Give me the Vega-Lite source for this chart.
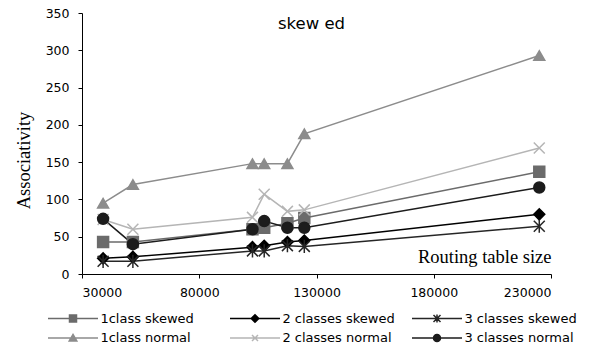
{
  "$schema": "https://vega.github.io/schema/vega-lite/v6.json",
  "width": 469,
  "height": 261,
  "autosize": {"type": "none"},
  "padding": {"left": 82, "top": 13, "right": 38, "bottom": 77},
  "background": "white",
  "title": {"text": "skew ed", "font": "DejaVu Sans", "fontSize": 16.5, "fontWeight": "normal", "color": "#000000", "anchor": "middle", "frame": "group", "orient": "top", "offset": 0, "baseline": "alphabetic", "dx": -5, "dy": 38},
  "config": {
    "view": {"stroke": null},
    "axis": {"grid": false, "domainColor": "#000000", "tickColor": "#000000", "tickSize": 4, "labelColor": "#000000", "labelFont": "DejaVu Sans", "labelFontSize": 12.5, "titleColor": "#000000", "titleFont": "Liberation Serif", "titleFontSize": 18.5, "titleFontWeight": "normal", "domainWidth": 1, "tickWidth": 1}
  },
  "data": {"values": [
    {"series": "1class skewed", "size": 39000, "assoc": 43},
    {"series": "1class skewed", "size": 51700, "assoc": 43},
    {"series": "1class skewed", "size": 102700, "assoc": 60},
    {"series": "1class skewed", "size": 107700, "assoc": 62},
    {"series": "1class skewed", "size": 117600, "assoc": 68},
    {"series": "1class skewed", "size": 124800, "assoc": 75},
    {"series": "1class skewed", "size": 225000, "assoc": 137},
    {"series": "2 classes skewed", "size": 39000, "assoc": 21},
    {"series": "2 classes skewed", "size": 51700, "assoc": 23},
    {"series": "2 classes skewed", "size": 102700, "assoc": 36},
    {"series": "2 classes skewed", "size": 107700, "assoc": 38},
    {"series": "2 classes skewed", "size": 117600, "assoc": 43},
    {"series": "2 classes skewed", "size": 124800, "assoc": 45},
    {"series": "2 classes skewed", "size": 225000, "assoc": 80},
    {"series": "3 classes skewed", "size": 39000, "assoc": 17},
    {"series": "3 classes skewed", "size": 51700, "assoc": 17},
    {"series": "3 classes skewed", "size": 102700, "assoc": 31},
    {"series": "3 classes skewed", "size": 107700, "assoc": 31},
    {"series": "3 classes skewed", "size": 117600, "assoc": 38},
    {"series": "3 classes skewed", "size": 124800, "assoc": 37},
    {"series": "3 classes skewed", "size": 225000, "assoc": 64},
    {"series": "1class normal", "size": 39000, "assoc": 95},
    {"series": "1class normal", "size": 51700, "assoc": 120},
    {"series": "1class normal", "size": 102700, "assoc": 148},
    {"series": "1class normal", "size": 107700, "assoc": 148},
    {"series": "1class normal", "size": 117600, "assoc": 148},
    {"series": "1class normal", "size": 124800, "assoc": 188},
    {"series": "1class normal", "size": 225000, "assoc": 293},
    {"series": "2 classes normal", "size": 39000, "assoc": 73},
    {"series": "2 classes normal", "size": 51700, "assoc": 60},
    {"series": "2 classes normal", "size": 102700, "assoc": 76},
    {"series": "2 classes normal", "size": 107700, "assoc": 107},
    {"series": "2 classes normal", "size": 117600, "assoc": 84},
    {"series": "2 classes normal", "size": 124800, "assoc": 86},
    {"series": "2 classes normal", "size": 225000, "assoc": 169},
    {"series": "3 classes normal", "size": 39000, "assoc": 74},
    {"series": "3 classes normal", "size": 51700, "assoc": 40},
    {"series": "3 classes normal", "size": 102700, "assoc": 60},
    {"series": "3 classes normal", "size": 107700, "assoc": 71},
    {"series": "3 classes normal", "size": 117600, "assoc": 62},
    {"series": "3 classes normal", "size": 124800, "assoc": 62},
    {"series": "3 classes normal", "size": 225000, "assoc": 116}
  ]},
  "encoding": {
    "x": {"field": "size", "type": "quantitative", "scale": {"domain": [30000, 230000], "nice": false, "zero": false},
      "axis": {"values": [30000, 80000, 130000, 180000, 230000], "format": "d", "labelPadding": 8, "title": "Routing table size", "titleAnchor": null, "titleAlign": "right", "titleBaseline": "alphabetic", "titleX": 469, "titleY": -12}},
    "y": {"field": "assoc", "type": "quantitative", "scale": {"domain": [0, 350], "nice": false},
      "axis": {"values": [0, 50, 100, 150, 200, 250, 300, 350], "labelPadding": 9, "title": "Associativity", "titleAngle": -90, "titleAlign": "center", "titleBaseline": "middle", "titleX": -58.5, "titleY": 147}}
  },
  "layer": [
    {"mark": {"type": "line", "strokeWidth": 1.5},
      "encoding": {
        "color": {"field": "series", "type": "nominal",
          "scale": {"domain": ["1class skewed", "2 classes skewed", "3 classes skewed", "1class normal", "2 classes normal", "3 classes normal"],
            "range": ["#6b6b6b", "#000000", "#262626", "#8c8c8c", "#b5b5b5", "#1c1c1c"]},
          "legend": {"title": null, "orient": "none", "direction": "horizontal", "legendX": -34, "legendY": 294.5, "columns": 3, "gridAlign": "all", "columnPadding": 14, "rowPadding": 1.5, "padding": 0,
            "symbolSize": 400, "symbolStrokeWidth": 1.5, "symbolOpacity": 1, "labelOffset": 30.4, "labelFont": "DejaVu Sans", "labelFontSize": 13, "labelColor": "#000000", "labelLimit": 300,
            "symbolFillColor": {"expr": "scale('color', datum.value)"},
            "symbolType": {"expr": "datum.value == '1class skewed' ? 'M-1.1,0L3.9,0M1.05,-0.35L1.75,-0.35L1.75,0.35L1.05,0.35Z' : datum.value == '2 classes skewed' ? 'M-1.1,0L3.9,0M1.4,-0.38L1.78,0L1.4,0.38L1.02,0Z' : datum.value == '3 classes skewed' ? 'M-1.1,0L3.9,0M1.05,-0.35L1.75,0.35M1.05,0.35L1.75,-0.35M1.4,-0.4L1.4,0.4' : datum.value == '1class normal' ? 'M-1.1,0L3.9,0M1.4,-0.35L1.78,0.3L1.02,0.3Z' : datum.value == '2 classes normal' ? 'M-1.1,0L3.9,0M1.1,-0.3L1.7,0.3M1.1,0.3L1.7,-0.3' : 'M-1.1,0L3.9,0M1.75,0A0.35,0.35,0,1,1,1.05,0A0.35,0.35,0,1,1,1.75,0Z'"}
          }
        }
      }},
    {"mark": {"type": "point", "filled": true, "size": 120, "strokeWidth": 1.5, "opacity": 1},
      "encoding": {
        "shape": {"field": "series", "type": "nominal", "legend": null,
          "scale": {"domain": ["1class normal", "1class skewed", "2 classes normal", "2 classes skewed", "3 classes normal", "3 classes skewed"],
            "range": ["triangle-up", "square", "M-1,-1L1,1M-1,1L1,-1", "diamond", "circle", "M-1,-1L1,1M-1,1L1,-1M0,-1.2L0,1.2"]}},
        "fill": {"field": "series", "type": "nominal", "legend": null,
          "scale": {"domain": ["1class normal", "1class skewed", "2 classes normal", "2 classes skewed", "3 classes normal", "3 classes skewed"],
            "range": ["#8c8c8c", "#6b6b6b", "#b5b5b5", "#000000", "#1c1c1c", "#262626"]}},
        "stroke": {"field": "series", "type": "nominal", "legend": null,
          "scale": {"domain": ["1class normal", "1class skewed", "2 classes normal", "2 classes skewed", "3 classes normal", "3 classes skewed"],
            "range": ["#8c8c8c", "#6b6b6b", "#b5b5b5", "#000000", "#1c1c1c", "#262626"]}}
      }}
  ]
}
